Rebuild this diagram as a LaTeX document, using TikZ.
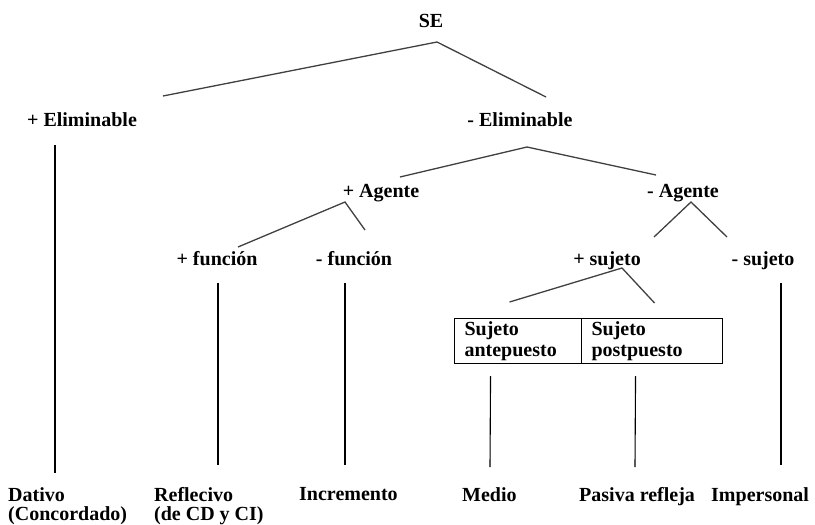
\documentclass[tikz,border=0pt]{standalone}
\usepackage{fontspec}
\setmainfont{Liberation Serif}
\tikzset{
    lbl/.style={font=\fontsize{20}{20}\selectfont\bfseries, inner sep=0pt, anchor=base},
    leaf/.style={font=\fontsize{20}{19}\selectfont\bfseries, inner sep=0pt, align=left, anchor=north west},
    cell/.style={draw, line width=1.1pt, font=\fontsize{20}{21}\selectfont\bfseries, align=left,
        inner xsep=10pt, inner ysep=0pt, minimum height=45pt, anchor=north west},
    branch/.style={draw=black!75, line width=1.3pt},
    stem/.style={draw=black, line width=1.1pt}
}
\begin{document}
\begin{tikzpicture}[x=1pt,y=-1pt]
    \useasboundingbox (0,0) rectangle (815,525);
    \node[lbl] (se) at (431,27) {SE};
    \node[lbl] (elimp) at (82,126) {+ Eliminable};
    \node[lbl] (elimm) at (520,126) {- Eliminable};
    \node[lbl] (agp) at (381,197) {+ Agente};
    \node[lbl] (agm) at (683,197) {- Agente};
    \node[lbl] (funp) at (217,265) {+ función};
    \node[lbl] (funm) at (354,265) {- función};
    \node[lbl] (sujp) at (607,265) {+ sujeto};
    \node[lbl] (sujm) at (763,265) {- sujeto};
    \node[cell, text width=107pt] (ante) at (454,318) {Sujeto\\antepuesto};
    \node[cell, text width=121pt] (post) at (581,318) {Sujeto\\postpuesto};
    \node[leaf] (dativo) at (8,487) {Dativo\\(Concordado)};
    \node[leaf] (reflex) at (154,487) {Reflecivo\\(de CD y CI)};
    \node[leaf] (incr) at (299,487) {Incremento};
    \node[leaf] (medio) at (462,487) {Medio};
    \node[leaf] (pasiva) at (579,487) {Pasiva refleja};
    \node[leaf] (impers) at (711,487) {Impersonal};
    \draw[branch] ([shift={(81,-30)}]elimp.base) -- ([shift={(6,15)}]se.base) -- ([shift={(26,-29)}]elimm.base);
    \draw[branch] ([shift={(19,-20)}]agp.base) -- ([shift={(7,21)}]elimm.base) -- ([shift={(-27,-22)}]agm.base);
    \draw[branch] ([shift={(21,-18)}]funp.base) -- ([shift={(-36,5)}]agp.base) -- ([shift={(11,-35)}]funm.base);
    \draw[branch] ([shift={(47,-28)}]sujp.base) -- ([shift={(8,5)}]agm.base) -- ([shift={(-36,-28)}]sujm.base);
    \draw[branch] ([shift={(-8.5,-16)}]ante.north) -- ([shift={(15,3)}]sujp.base) -- ([shift={(2.5,-15)}]post.north);
    \draw[stem] ([shift={(-27,19)}]elimp.base) -- ([shift={(47,-14)}]dativo.north west);
    \draw[stem] ([shift={(1,18)}]funp.base) -- ([shift={(64,-22)}]reflex.north west);
    \draw[stem] ([shift={(-9,18)}]funm.base) -- ([shift={(46,-22)}]incr.north west);
    \draw[stem] ([shift={(18,18)}]sujm.base) -- ([shift={(70,-22)}]impers.north west);
    \draw[stem] ([shift={(-27.5,12)}]ante.south) -- ([shift={(28,-20)}]medio.north west);
    \draw[stem] ([shift={(-16.5,12)}]post.south) -- ([shift={(56,-20)}]pasiva.north west);
\end{tikzpicture}
\end{document}
